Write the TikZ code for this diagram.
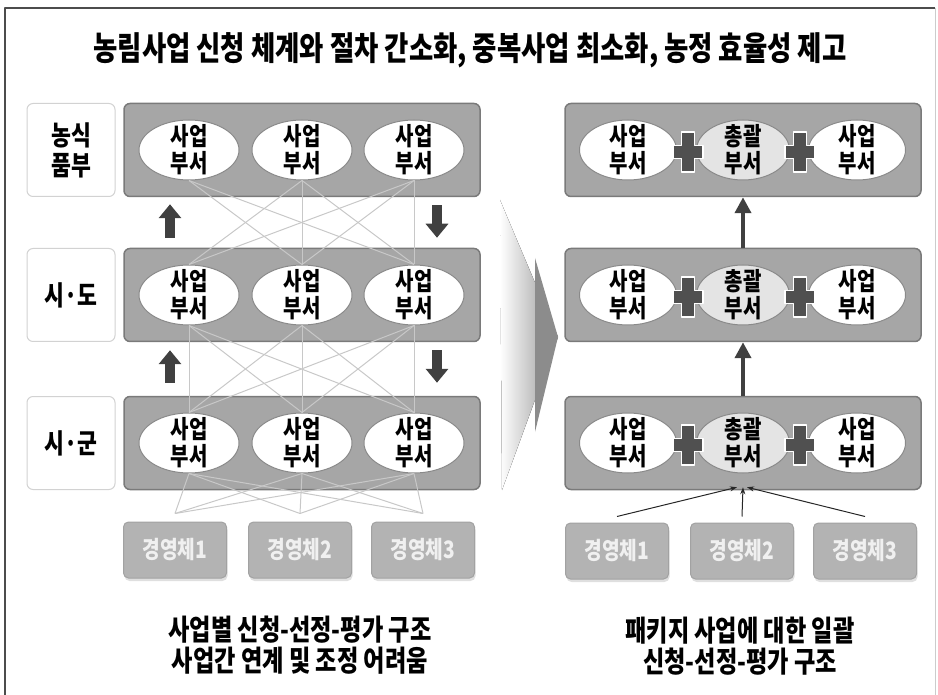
\documentclass[tikz,border=0pt]{standalone}
\usepackage{fontspec}
\setmainfont{Noto Sans CJK KR}[FakeStretch=0.8]
\usetikzlibrary{shapes.geometric,arrows.meta,shadows}
\definecolor{bandfill}{HTML}{A6A6A6}
\definecolor{bandline}{HTML}{7A7A7A}
\definecolor{deptline}{HTML}{8A8A8A}
\definecolor{hqfill}{HTML}{E4E4E4}
\definecolor{lvlline}{HTML}{D2D2D2}
\definecolor{unitfill}{HTML}{B3B3B3}
\definecolor{unitline}{HTML}{A2A2A2}
\definecolor{unittext}{HTML}{F0F0F0}
\definecolor{linkgray}{HTML}{C8C8C8}
\definecolor{arrdark}{HTML}{404040}
\definecolor{plusdark}{HTML}{505050}
\newcommand\plusmark[2]{\filldraw[plusmk,shift={(#1,#2)}] (-15,-6.5) -- (-6.5,-6.5) -- (-6.5,-20) -- (6.5,-20) -- (6.5,-6.5) -- (15,-6.5) -- (15,6.5) -- (6.5,6.5) -- (6.5,20) -- (-6.5,20) -- (-6.5,6.5) -- (-15,6.5) -- cycle;}
\begin{document}
\begin{tikzpicture}[x=1pt,y=-1pt,line join=round,font=\bfseries,
  band/.style={draw=bandline,fill=bandfill,line width=1.5pt,rounded corners=6pt,minimum width=356pt,minimum height=93pt},
  lvl/.style={draw=lvlline,fill=white,line width=1pt,rounded corners=6pt,minimum width=88pt,minimum height=93pt,align=center,font=\bfseries\fontsize{27}{30}\selectfont},
  dept/.style={ellipse,draw=deptline,fill=white,line width=1pt,minimum width=100pt,minimum height=60pt,inner xsep=0pt,inner ysep=-9pt,align=center,font=\bfseries\fontsize{25}{27}\selectfont},
  hq/.style={dept,fill=hqfill,minimum width=93pt},
  unitbox/.style={draw=unitline,fill=unitfill,text=unittext,rounded corners=5pt,minimum width=103pt,minimum height=56pt,line width=1pt,font=\bfseries\fontsize{24}{26}\selectfont,drop shadow={shadow xshift=1pt,shadow yshift=-3pt,opacity=0.25}},
  link/.style={draw=linkgray,line width=1pt},
  blockarr/.style={draw=arrdark,line width=10pt,-{Triangle[width=22pt,length=14pt]}},
  uparr/.style={draw=arrdark,line width=4pt,-{Triangle[width=16pt,length=16pt]}},
  feed/.style={draw=black!85,line width=1pt,-{Stealth[length=7pt,width=5pt]}},
  plusmk/.style={fill=plusdark,draw=white,line width=1.5pt},
  caption/.style={align=center,font=\bfseries\fontsize{29}{31}\selectfont}]
\useasboundingbox (0,0) rectangle (938,695);
% frame
\draw[black!70,line width=1.2pt] (5,695) |- (935,8);
\draw[black!20,line width=1pt] (935,8) -- (935,695);
\node[font=\bfseries\fontsize{33}{36}\selectfont] (title) at (470,50) {농림사업 신청 체계와 절차 간소화, 중복사업 최소화, 농정 효율성 제고};

% left: current structure
\node[lvl] (lv1) at (71,150) {농식\\품부};
\node[lvl] (lv2) at (71,295) {시·도};
\node[lvl] (lv3) at (71,443) {시·군};
\node[band] (lb1) at (302,150) {};
\node[band] (lb2) at (302,295) {};
\node[band] (lb3) at (302,443) {};
\foreach \r/\y in {1/150,2/295,3/443} {
  \node[dept] (ld\r1) at (189,\y) {사업\\부서};
  \node[dept] (ld\r2) at (302,\y) {사업\\부서};
  \node[dept] (ld\r3) at (414,\y) {사업\\부서};
}
\node[unitbox] (lu1) at (175,550) {경영체1};
\node[unitbox] (lu2) at (300,550) {경영체2};
\node[unitbox] (lu3) at (423,550) {경영체3};
\foreach \i in {1,2,3} \foreach \j in {1,2,3} {
  \ifnum\i\j=11 \else \draw[link] (ld1\i.south) -- (ld2\j.north); \fi
  \draw[link] (ld2\i.south) -- (ld3\j.north);
  \draw[link] (ld3\i.south) -- ([yshift=8pt]lu\j.north);
}
\draw[blockarr,shorten <=10pt,shorten >=7pt] ([xshift=-132pt]lb2.north) -- ([xshift=-132pt]lb1.south);
\draw[blockarr,shorten <=8pt,shorten >=10pt] ([xshift=135pt]lb1.south) -- ([xshift=135pt]lb2.north);
\draw[blockarr,shorten <=13pt,shorten >=8pt] ([xshift=-132pt]lb3.north) -- ([xshift=-132pt]lb2.south);
\draw[blockarr,shorten <=8pt,shorten >=13pt] ([xshift=135pt]lb2.south) -- ([xshift=135pt]lb3.north);
\node[caption] (lcap) at (300,645) {사업별 신청-선정-평가 구조\\사업간 연계 및 조정 어려움};

% middle chevron
\fill[left color=white,right color=black!42] (500,200) -- (558,337) -- (502,490) -- cycle;
\fill[black!45] (535,258) -- (558,337) -- (535,432) -- cycle;

% right: package structure
\node[band] (rb1) at (743,150) {};
\node[band] (rb2) at (743,295) {};
\node[band] (rb3) at (743,443) {};
\foreach \r/\y in {1/150,2/295,3/443} {
  \node[dept,minimum width=97pt] (rd\r1) at (628,\y) {사업\\부서};
  \node[hq] (rd\r2) at (743,\y) {총괄\\부서};
  \node[dept,minimum width=97pt] (rd\r3) at (857,\y) {사업\\부서};
  \plusmark{688}{\y+2}
  \plusmark{800}{\y+2}
}
\draw[uparr] (rb2.north) -- (rb1.south);
\draw[uparr] (rb3.north) -- (rb2.south);
\node[unitbox] (ru1) at (617,551) {경영체1};
\node[unitbox] (ru2) at (742,551) {경영체2};
\node[unitbox] (ru3) at (865,551) {경영체3};
\draw[feed] ([yshift=6pt]ru1.north) -- ([xshift=-6pt,yshift=3pt]rb3.south);
\draw[feed] ([yshift=6pt]ru2.north) -- ([yshift=3pt]rb3.south);
\draw[feed] ([yshift=6pt]ru3.north) -- ([xshift=4pt,yshift=3pt]rb3.south);
\node[caption] (rcap) at (740,646) {패키지 사업에 대한 일괄\\신청-선정-평가 구조};
\end{tikzpicture}
\end{document}
